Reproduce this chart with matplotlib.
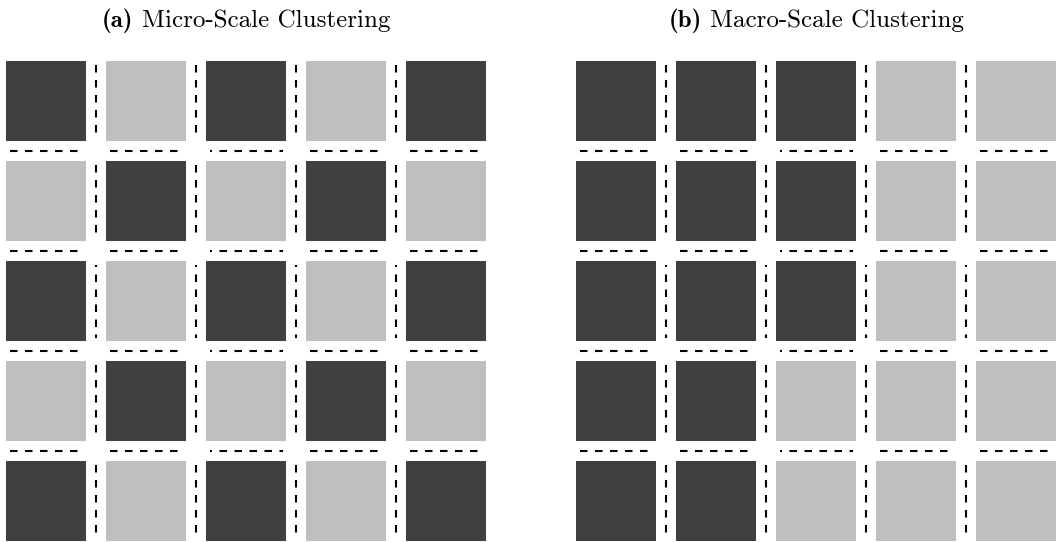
#!/usr/bin/python3

import matplotlib
matplotlib.use('Agg')
import matplotlib.pyplot as plt
from matplotlib import rcParams
from matplotlib.patches import Rectangle

rcParams['lines.scale_dashes'] = False

##### DATA ######
labels = ['(a)', '(b)']
titles = ['Micro-Scale Clustering', 'Macro-Scale Clustering']
# 1 = dark tile, 0 = light tile (row 0 is the top row)
micro = [[1, 0, 1, 0, 1],
         [0, 1, 0, 1, 0],
         [1, 0, 1, 0, 1],
         [0, 1, 0, 1, 0],
         [1, 0, 1, 0, 1]]
macro = [[1, 1, 1, 0, 0],
         [1, 1, 1, 0, 0],
         [1, 1, 1, 0, 0],
         [1, 1, 0, 0, 0],
         [1, 1, 0, 0, 0]]
grids = [micro, macro]

##### STYLE ######
W, H, DPI = 1061, 542, 100
tile_colors = {0: '#bfbfbf', 1: '#404040'}
panel_left_px = [6, 576]
panel_top_px = 61
pitch_px = 100
tile = 0.8        # tile size in pitch units
px = 1.0 / pitch_px
pt = 72.0 / DPI   # points per pixel
dash = (7.5 * pt, 7.5 * pt)
title_size = 18


###### PLOT ######
def divider(ax, middle, a, b, vertical):
	# dashed line in the gap, from a to b (cell-relative) with a phase shift on the middle one
	if middle:
		s, e, style = a + 4 * px, a + 77 * px, (5.5 * pt, dash)
	else:
		s, e, style = a + 4 * px, a + 71.5 * px, (0, dash)
	if vertical:
		ax.plot([b, b], [s, e], color='black', lw=1.5, ls=style, dash_capstyle='butt')
	else:
		ax.plot([s, e], [b, b], color='black', lw=1.5, ls=style, dash_capstyle='butt')


def title(fig, renderer, cx_px, label, text):
	y = 1 - 27 / H
	t1 = fig.text(0, y, label, ha='left', va='baseline', fontsize=title_size, family='cmb10')
	t2 = fig.text(0, y, text, ha='left', va='baseline', fontsize=title_size, family='cmr10')
	w1 = t1.get_window_extent(renderer).width
	w2 = t2.get_window_extent(renderer).width
	space = 0.333 * title_size * DPI / 72
	x0 = cx_px - (w1 + space + w2) / 2
	t1.set_x(x0 / W)
	t2.set_x((x0 + w1 + space) / W)


def plot():
	fig = plt.figure(figsize=(W / DPI, H / DPI), dpi=DPI)
	renderer = fig.canvas.get_renderer()
	for k, grid in enumerate(grids):
		n = len(grid)
		size_px = n * pitch_px - (pitch_px - 80)
		ax = fig.add_axes([panel_left_px[k] / W, (H - panel_top_px - size_px) / H, size_px / W, size_px / H])
		ax.set_xlim(0, n - 1 + tile)
		ax.set_ylim(n - 1 + tile, 0)
		ax.axis('off')
		for i in range(n):
			for j in range(n):
				ax.add_patch(Rectangle((j, i), tile, tile, facecolor=tile_colors[grid[i][j]], edgecolor='none'))
		mid = n // 2
		for i in range(n):
			for j in range(n - 1):
				divider(ax, i == mid, i, j + 0.9, True)
		for i in range(n - 1):
			for j in range(n):
				divider(ax, j == mid, j, i + 0.9, False)
		title(fig, renderer, panel_left_px[k] + size_px / 2, labels[k], titles[k])

	fig.savefig('out.png', dpi=DPI)
	plt.close(fig)


plot()
